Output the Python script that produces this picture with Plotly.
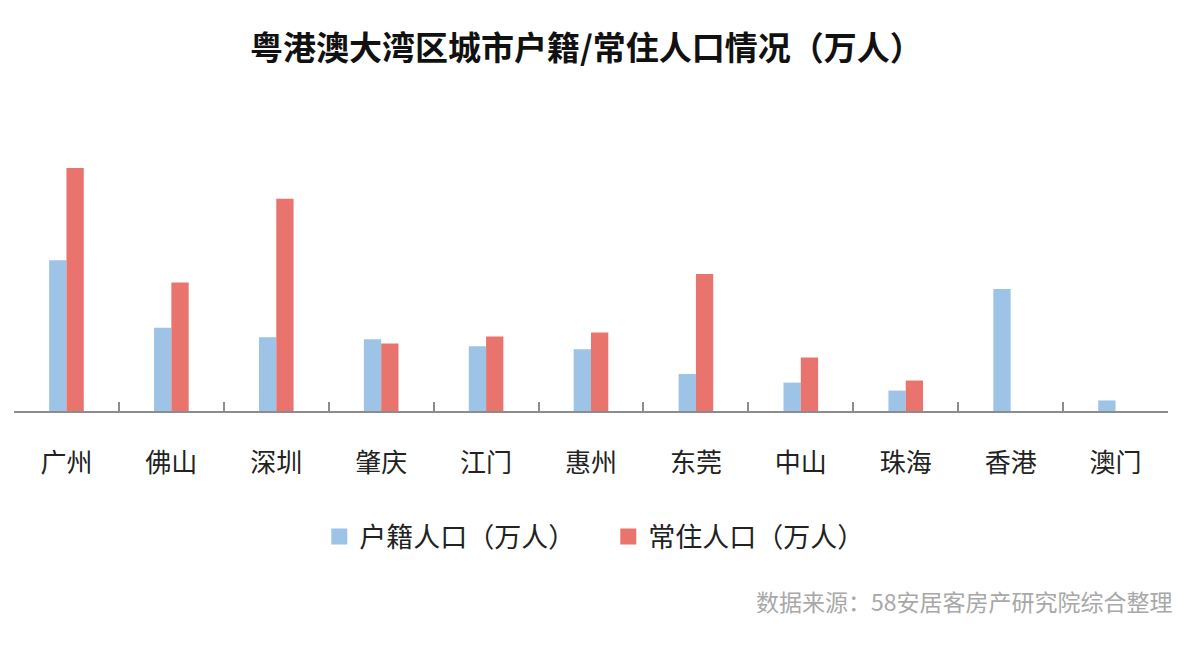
import plotly.graph_objects as go

cities = ["广州", "佛山", "深圳", "肇庆", "江门", "惠州", "东莞", "中山", "珠海", "香港", "澳门"]
huji = [871, 481, 426, 414, 374, 357, 214, 164, 118, 705, 61]
changzhu = [1404, 743, 1226, 390, 430, 453, 791, 309, 176, None, None]

title_text = "粤港澳大湾区城市户籍/常住人口情况（万人）"
name_huji = "户籍人口（万人）"
name_changzhu = "常住人口（万人）"
source_text = "数据来源：58安居客房产研究院综合整理"

FONT = "Noto Sans CJK SC"
BLUE, RED = "#9dc3e6", "#e8746d"
W, H = 1200, 645
top_px, base_px, gz_top_px = 112, 403, 160
ymax = max(changzhu[0], 1) * (base_px - top_px) / (base_px - gz_top_px)

fig = go.Figure()
fig.add_trace(go.Bar(x=cities, y=huji, name=name_huji, marker_color=BLUE, marker_line_width=0, showlegend=False))
fig.add_trace(go.Bar(x=cities, y=changzhu, name=name_changzhu, marker_color=RED, marker_line_width=0, showlegend=False))
# legend swatches
for nm, col in [(name_huji, BLUE), (name_changzhu, RED)]:
    fig.add_trace(go.Scatter(x=[None], y=[None], mode="markers", name=nm,
                             marker=dict(symbol="square", size=16, color=col), showlegend=True))

fig.update_layout(
    width=W, height=H,
    margin=dict(l=6, r=40, t=top_px, b=H - base_px),
    paper_bgcolor="white", plot_bgcolor="white",
    barmode="group", bargap=0.67, bargroupgap=0,
    font=dict(family=FONT, color="#222"),
    title=dict(text="<b>" + title_text + "</b>", x=0.482, xanchor="center", y=0.938, yanchor="middle",
               font=dict(size=33, family=FONT, color="#111")),
    legend=dict(orientation="h", x=0.515, xanchor="center", y=-0.433, yanchor="middle",
                font=dict(size=27, family=FONT, color="#222"), itemwidth=30, traceorder="normal",
                entrywidth=244),
    showlegend=True,
)
fig.update_xaxes(
    showline=True, linecolor="#8c8c8c", linewidth=1.5,
    ticks="inside", tickson="boundaries", ticklen=9, tickcolor="#8c8c8c", tickwidth=1.5,
    tickfont=dict(size=26, family=FONT, color="#222"), ticklabelstandoff=28,
    showgrid=False, zeroline=False, fixedrange=True,
)
fig.update_yaxes(visible=False, range=[0, ymax], showgrid=False, zeroline=False)

fig.add_annotation(text=source_text, xref="paper", yref="paper", x=1.006, xanchor="right",
                   y=-0.653, yanchor="middle", showarrow=False,
                   font=dict(size=23, family=FONT, color="#a8a8a8"))

fig.write_html("out.html")
